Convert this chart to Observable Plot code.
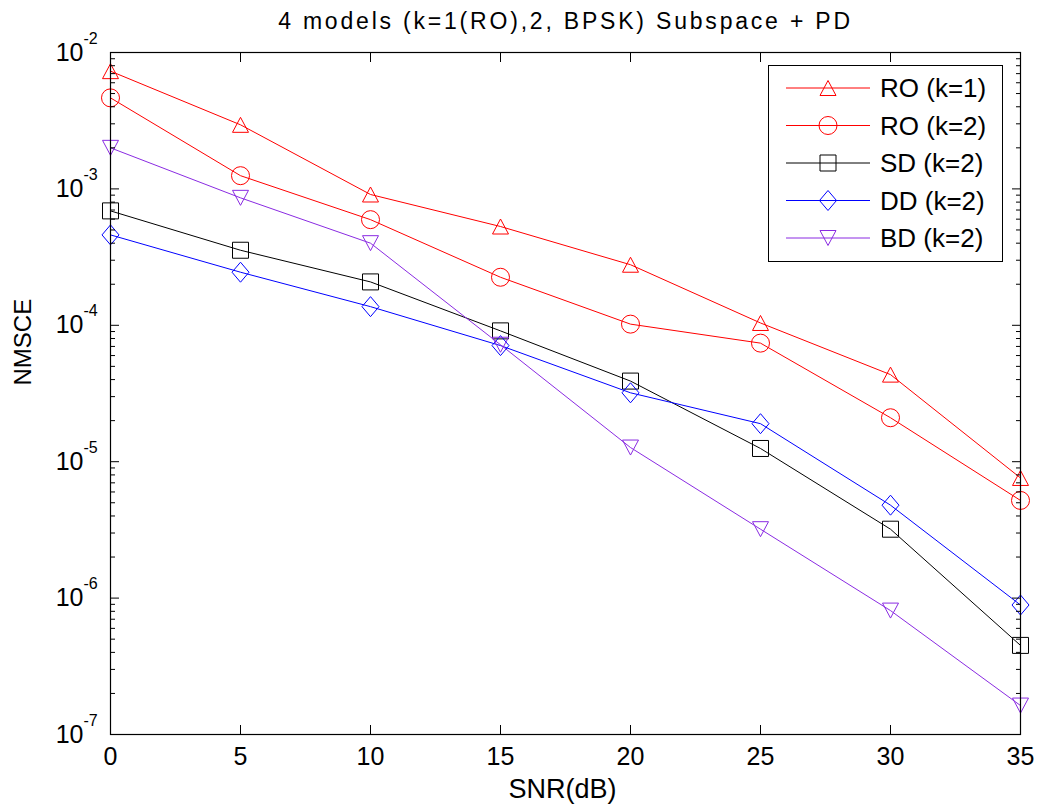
<!DOCTYPE html>
<html><head><meta charset="utf-8">
<script src="https://cdn.jsdelivr.net/npm/d3@7"></script>
<script src="https://cdn.jsdelivr.net/npm/@observablehq/plot@0.6"></script>
<style>
body{margin:0;background:#fff;}
#wrap{position:relative;width:1041px;height:807px;font-family:"Liberation Sans",Arial,Helvetica,sans-serif;}
#wrap svg{font-family:"Liberation Sans",Arial,Helvetica,sans-serif;}
#legend{position:absolute;left:768px;top:65px;}
</style></head><body><div id="wrap"></div>
<script>
const chartTitle = "4 models (k=1(RO),2, BPSK) Subspace + PD";
const xLabel = "SNR(dB)";
const yLabel = "NMSCE";
const snr = [0, 5, 10, 15, 20, 25, 30, 35];
const seriesNames = ["RO (k=1)", "RO (k=2)", "SD (k=2)", "DD (k=2)", "BD (k=2)"];
const ro1 = [7.3e-3, 2.95e-3, 9.1e-4, 5.3e-4, 2.78e-4, 1.04e-4, 4.35e-5, 7.6e-6];
const ro2 = [4.65e-3, 1.25e-3, 5.95e-4, 2.25e-4, 1.02e-4, 7.4e-5, 2.1e-5, 5.2e-6];
const sd  = [6.9e-4, 3.55e-4, 2.08e-4, 9.1e-5, 3.9e-5, 1.25e-5, 3.2e-6, 4.5e-7];
const dd  = [4.6e-4, 2.45e-4, 1.37e-4, 7.1e-5, 3.2e-5, 1.9e-5, 4.8e-6, 8.9e-7];
const bd  = [2.0e-3, 8.6e-4, 4.0e-4, 7.2e-5, 1.27e-5, 3.2e-6, 8.1e-7, 1.63e-7];
const xTicks = [0, 5, 10, 15, 20, 25, 30, 35];
const yMajor = [1e-7, 1e-6, 1e-5, 1e-4, 1e-3, 1e-2];
const yExpLabels = ["-7", "-6", "-5", "-4", "-3", "-2"];
const colors = ["#ff0000", "#ff0000", "#000000", "#0000ff", "#8a2be2"];
const markerKinds = ["triUp", "circle", "square", "diamond", "triDown"];

const seriesValues = [ro1, ro2, sd, dd, bd];
const yMinor = [];
for (let e = -7; e < -2; e++) for (let k = 2; k <= 9; k++) yMinor.push(k * Math.pow(10, e));

const sym = {
  triUp: {draw(c){c.moveTo(0,-7.5);c.lineTo(8,7.5);c.lineTo(-8,7.5);c.closePath();}},
  triDown: {draw(c){c.moveTo(0,7.5);c.lineTo(8,-7.5);c.lineTo(-8,-7.5);c.closePath();}},
  square: {draw(c){c.moveTo(-8,-8);c.lineTo(8,-8);c.lineTo(8,8);c.lineTo(-8,8);c.closePath();}},
  diamond: {draw(c){c.moveTo(0,-10);c.lineTo(8.5,0);c.lineTo(0,10);c.lineTo(-8.5,0);c.closePath();}},
  circle: {draw(c){c.moveTo(9,0);c.arc(0,0,9,0,2*Math.PI);c.closePath();}}
};

const rows = [];
seriesValues.forEach((vals, i) => vals.forEach((v, j) => rows.push({i, series: seriesNames[i], snr: snr[j], v})));

const seriesMarks = [];
seriesNames.forEach((name, i) => {
  const d = rows.filter(r => r.i === i);
  seriesMarks.push(Plot.line(d, {x: "snr", y: "v", stroke: colors[i], strokeWidth: 1}));
  seriesMarks.push(Plot.dot(d, {x: "snr", y: "v", stroke: colors[i], fill: "none", strokeWidth: 1, r: 8, symbol: sym[markerKinds[i]]}));
});

const chart = Plot.plot({
  width: 1041, height: 807,
  marginLeft: 110, marginRight: 21, marginTop: 52, marginBottom: 73,
  style: {background: "#fff", color: "#000", fontFamily: "'Liberation Sans', Arial, Helvetica, sans-serif"},
  x: {domain: [0, 35]},
  y: {type: "log", domain: [1e-7, 1e-2]},
  marks: [
    ...seriesMarks,
    Plot.frame({stroke: "black", strokeWidth: 1.2}),
    Plot.axisX({anchor: "bottom", ticks: xTicks, tickSize: -9, tickPadding: 22, fontSize: 25, label: null, tickFormat: d => String(d)}),
    Plot.axisX({anchor: "top", ticks: xTicks, tickSize: -9, fill: "none", label: null}),
    Plot.axisY({anchor: "left", ticks: yMajor, tickSize: -9, fill: "none", label: null}),
    Plot.axisY({anchor: "left", ticks: yMinor, tickSize: -5, fill: "none", label: null}),
    Plot.axisY({anchor: "right", ticks: yMajor, tickSize: -9, fill: "none", label: null}),
    Plot.axisY({anchor: "right", ticks: yMinor, tickSize: -5, fill: "none", label: null}),
    Plot.text(yMajor, {y: d => d, frameAnchor: "left", text: () => "10", textAnchor: "end", dx: -27, fontSize: 25}),
    Plot.text(yMajor, {y: d => d, frameAnchor: "left", text: (d, i) => yExpLabels[i], textAnchor: "start", dx: -27, dy: -14, fontSize: 16}),
    Plot.text([chartTitle], {text: d => d, frameAnchor: "top", lineAnchor: "middle", dy: -31, dx: 0, fontSize: 23}),
    Plot.text([xLabel], {text: d => d, frameAnchor: "bottom", lineAnchor: "middle", dy: 55, dx: -3, fontSize: 27}),
    Plot.text([yLabel], {text: d => d, frameAnchor: "left", dx: -87, dy: -8, rotate: -90, fontSize: 24})
  ]
});
document.getElementById("wrap").appendChild(chart);
d3.select(chart).selectAll("text").filter(function() { return this.textContent === chartTitle; })
  .style("letter-spacing", "2.8px");

// Legend
const lw = 235, lh = 197;
const leg = d3.select("#wrap").append("svg").attr("id", "legend").attr("width", lw).attr("height", lh);
leg.append("rect").attr("x", 0.5).attr("y", 0.5).attr("width", lw - 1).attr("height", lh - 1).attr("fill", "#fff").attr("stroke", "#000");
seriesNames.forEach((name, i) => {
  const cy = 23 + i * 37.5;
  const g = leg.append("g");
  g.append("line").attr("x1", 18).attr("x2", 102).attr("y1", cy).attr("y2", cy).attr("stroke", colors[i]).attr("stroke-width", 1);
  g.append("path").attr("d", d3.symbol(sym[markerKinds[i]], 64)()).attr("transform", `translate(60,${cy})`).attr("fill", "none").attr("stroke", colors[i]);
  g.append("text").attr("x", 112).attr("y", cy).attr("dy", "0.36em").attr("font-size", 26).attr("fill", "#000")
    .style("font-family", "'Liberation Sans', Arial, sans-serif").text(name);
});
</script>
</body></html>
